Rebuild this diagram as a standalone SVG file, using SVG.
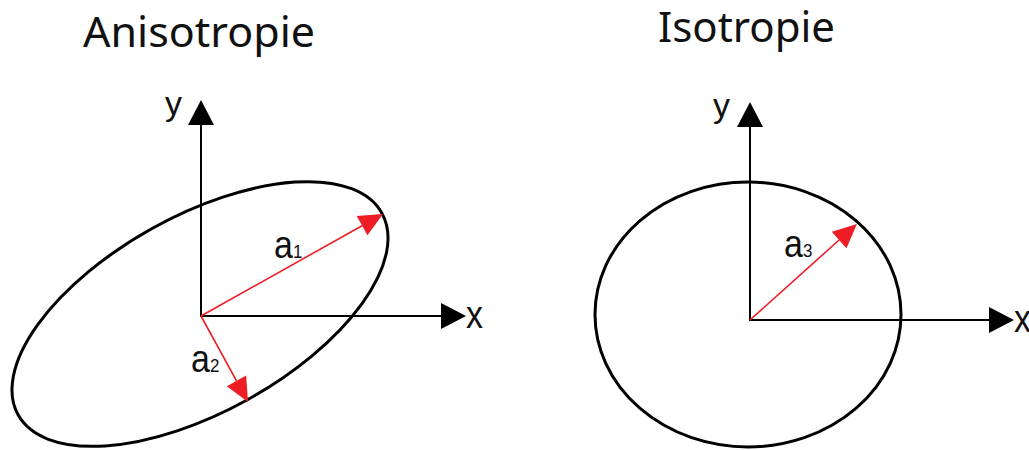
<svg xmlns="http://www.w3.org/2000/svg" width="1029" height="450" viewBox="0 0 1029 450">
  <style>
    .title { font-family: "Noto Sans", "Open Sans", sans-serif; font-size: 41px; fill: #111; }
    .lbl { font-family: "Liberation Sans", Arial, sans-serif; font-size: 34px; fill: #111; }
    .sub { font-family: "Liberation Sans", Arial, sans-serif; font-size: 17px; fill: #111; }
    .axis { stroke: #000; stroke-width: 2; fill: none; }
    .shape { stroke: #000; stroke-width: 3; fill: none; }
    .vec { stroke: #ee1c24; stroke-width: 1.6; fill: none; }
  </style>
  <defs>
    <marker id="blackHead" markerUnits="userSpaceOnUse" markerWidth="26" markerHeight="26" refX="0" refY="13" orient="auto" overflow="visible">
      <path d="M0,0 L25,13 L0,26 Z" fill="#000"/>
    </marker>
    <marker id="redHead" markerUnits="userSpaceOnUse" markerWidth="24" markerHeight="22" refX="0" refY="11" orient="auto" overflow="visible">
      <path d="M0,0 L24,11 L0,22 Z" fill="#ee1c24"/>
    </marker>
  </defs>
  <rect width="1029" height="450" fill="#fff"/>

  <g id="anisotropie">
    <text class="title" x="83" y="47" textLength="232" lengthAdjust="spacingAndGlyphs">Anisotropie</text>
    <ellipse id="ellipse-aniso" class="shape" cx="200" cy="314" rx="208" ry="98" transform="rotate(-29 200 314)"/>
  </g>

  <g id="isotropie">
    <text class="title" x="658" y="42" textLength="177" lengthAdjust="spacingAndGlyphs">Isotropie</text>
    <ellipse id="ellipse-iso" class="shape" cx="748" cy="314.5" rx="153" ry="132.5"/>
  </g>

  <g id="connectors">
    <line class="axis" x1="201" y1="317" x2="201" y2="125" marker-end="url(#blackHead)"/>
    <line class="axis" x1="200" y1="316" x2="441" y2="316" marker-end="url(#blackHead)"/>
    <line class="axis" x1="750" y1="321" x2="750" y2="127" marker-end="url(#blackHead)"/>
    <line class="axis" x1="749" y1="320" x2="989" y2="320" marker-end="url(#blackHead)"/>
    <line class="vec" x1="201" y1="316" x2="362.1" y2="225.7" marker-end="url(#redHead)"/>
    <line class="vec" x1="201" y1="316" x2="236.5" y2="380.9" marker-end="url(#redHead)"/>
    <line class="vec" x1="750" y1="320" x2="839.1" y2="240" marker-end="url(#redHead)"/>
  </g>

  <g id="labels">
    <text class="lbl" x="165" y="115">y</text>
    <text class="lbl" transform="translate(466 328) scale(1 1.12)">x</text>
    <text class="lbl" x="713" y="117">y</text>
    <text class="lbl" transform="translate(1014 332) scale(1 1.12)">x</text>
    <text class="lbl" transform="translate(274 258) scale(1 1.12)">a<tspan class="sub">1</tspan></text>
    <text class="lbl" transform="translate(191 372) scale(1 1.12)">a<tspan class="sub">2</tspan></text>
    <text class="lbl" transform="translate(784 257) scale(1 1.12)">a<tspan class="sub">3</tspan></text>
  </g>
</svg>
